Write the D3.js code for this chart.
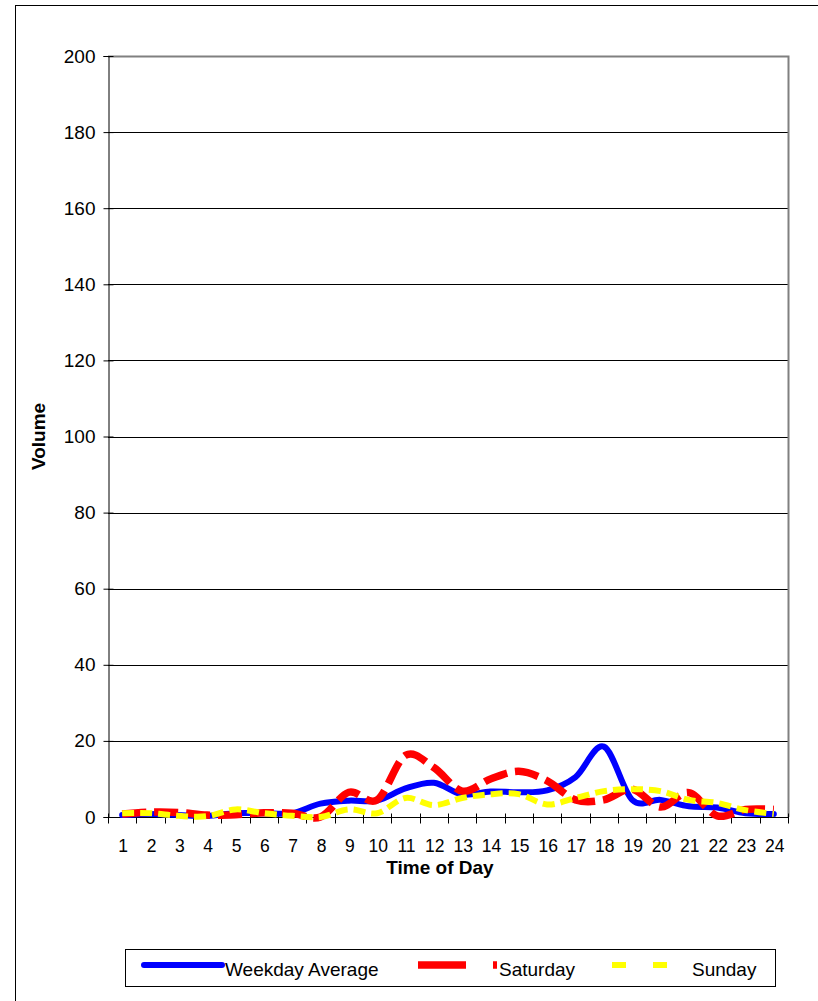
<!DOCTYPE html>
<html lang="en">
<head>
    <meta charset="UTF-8">
    <title>Volume by Time of Day</title>
    <script src="https://d3js.org/d3.v7.min.js"></script>
    <style>
        body { margin: 0; background: white; }
        svg { display: block; font-family: Arial, "Liberation Sans", sans-serif; }
    </style>
</head>
<body>
    <script>
        // Data
        const hours = d3.range(1, 25);
        const weekday = [0.5, 0.8, 0.5, 0.3, 1, 1, 1, 3.5, 4.3, 4.3, 7.5, 9, 5.9, 6.7, 6.5, 7, 10.5, 18.5, 4.5, 4.5, 2.8, 2.5, 1, 0.8];
        const saturday = [0.8, 1.3, 1.2, 0.5, 0.6, 1.1, 1, 0, 6.5, 4.5, 16.2, 13, 6.8, 10, 12, 9.5, 4.5, 4.5, 7.3, 2.6, 6.4, 0.3, 2, 2];
        const sunday = [1, 1, 0.3, 0.2, 2, 1, 0.3, 0, 2, 1, 5, 3.1, 5, 6, 6, 3.3, 5, 6.8, 7.3, 6.8, 4.5, 3.7, 1.8, 0.8];
        const yTicks = d3.range(0, 201, 20);

        const series = [
            { name: "Weekday Average", values: weekday, color: "#0000ff", width: 6, dash: null },
            { name: "Saturday", values: saturday, color: "#ff0000", width: 7.5, dash: "24,8" },
            { name: "Sunday", values: sunday, color: "#ffff00", width: 6, dash: "12,6" }
        ];

        const W = 818, H = 1001;
        const plot = { left: 108, right: 788, top: 56, bottom: 817 };

        const svg = d3.select("body").append("svg")
            .attr("width", W)
            .attr("height", H);

        // outer chart frame
        svg.append("rect")
            .attr("x", 15.5).attr("y", 5.5)
            .attr("width", W).attr("height", H)
            .attr("fill", "white").attr("stroke", "black");

        const x = d3.scaleBand().domain(hours).range([plot.left, plot.right]);
        const xEdge = d3.scaleLinear().domain([0, 24]).range([plot.left, plot.right]);
        const y = d3.scaleLinear().domain([0, 200]).range([plot.bottom, plot.top]);
        const cx = h => x(h) + x.bandwidth() / 2;

        // gridlines
        svg.append("g").selectAll("line")
            .data(yTicks.filter(d => d > 0 && d < 200))
            .join("line")
            .attr("x1", plot.left).attr("x2", plot.right)
            .attr("y1", d => Math.round(y(d)) + 0.5).attr("y2", d => Math.round(y(d)) + 0.5)
            .attr("stroke", "black");

        // plot area border (top & right grey)
        svg.append("path")
            .attr("d", `M${plot.left},${plot.top + 0.5}H${plot.right + 0.5}V${plot.bottom}`)
            .attr("fill", "none").attr("stroke", "#808080").attr("stroke-width", 2);

        // y axis
        svg.append("g")
            .attr("transform", `translate(${plot.left + 0.5},0)`)
            .call(d3.axisLeft(y).tickValues(yTicks).tickSize(5).tickPadding(8))
            .call(g => g.select(".domain").attr("stroke", "black"))
            .call(g => g.selectAll(".tick line").attr("x1", 5).attr("stroke", "black"))
            .call(g => g.selectAll(".tick text")
                .attr("font-size", 19).attr("font-family", "Arial, 'Liberation Sans', sans-serif").attr("fill", "black"));

        // x axis: ticks on category edges, labels centred
        const xAxis = svg.append("g")
            .attr("transform", `translate(0,${plot.bottom + 0.5})`);
        xAxis.append("line")
            .attr("x1", plot.left).attr("x2", plot.right)
            .attr("stroke", "black");
        xAxis.selectAll(".edge")
            .data(d3.range(0, 25))
            .join("line")
            .attr("class", "edge")
            .attr("x1", d => Math.round(xEdge(d)) + 0.5).attr("x2", d => Math.round(xEdge(d)) + 0.5)
            .attr("y1", -4).attr("y2", 6)
            .attr("stroke", "black");
        xAxis.selectAll(".lbl")
            .data(hours)
            .join("text")
            .attr("class", "lbl")
            .attr("x", d => cx(d) + 1)
            .attr("y", 34)
            .attr("text-anchor", "middle")
            .attr("font-size", 17.5)
            .text(d => d);

        // axis titles
        svg.append("text")
            .attr("x", 440).attr("y", 874)
            .attr("text-anchor", "middle")
            .attr("font-size", 19).attr("font-weight", "bold")
            .text("Time of Day");

        svg.append("text")
            .attr("transform", `translate(45,${(plot.top + plot.bottom) / 2}) rotate(-90)`)
            .attr("text-anchor", "middle")
            .attr("font-size", 19).attr("font-weight", "bold")
            .text("Volume");

        // lines
        const line = d3.line()
            .x((d, i) => cx(hours[i]))
            .y(d => y(d))
            .curve(d3.curveCardinal.tension(0));

        svg.append("g").selectAll("path")
            .data(series)
            .join("path")
            .attr("d", d => line(d.values))
            .attr("fill", "none")
            .attr("stroke", d => d.color)
            .attr("stroke-width", d => d.width)
            .attr("stroke-dasharray", d => d.dash)
            .attr("stroke-linecap", d => d.dash ? "butt" : "round")
            .attr("stroke-linejoin", "round");

        // legend
        const legend = svg.append("g");
        legend.append("rect")
            .attr("x", 125.5).attr("y", 949.5)
            .attr("width", 650).attr("height", 37)
            .attr("fill", "white").attr("stroke", "black");

        const legendItems = [
            { s: series[0], x1: 144, x2: 222, dash: null, tx: 225 },
            { s: series[1], x1: 418, x2: 497, dash: "48,27", tx: 499 },
            { s: series[2], x1: 612, x2: 667, dash: "14,27", tx: 692 }
        ];
        legendItems.forEach(it => {
            legend.append("line")
                .attr("x1", it.x1).attr("x2", it.x2)
                .attr("y1", 965).attr("y2", 965)
                .attr("stroke", it.s.color)
                .attr("stroke-width", it.s.width)
                .attr("stroke-dasharray", it.dash)
                .attr("stroke-linecap", it.dash ? "butt" : "round");
            legend.append("text")
                .attr("x", it.tx).attr("y", 975.5)
                .attr("font-size", 19)
                .text(it.s.name);
        });
    </script>
</body>
</html>
